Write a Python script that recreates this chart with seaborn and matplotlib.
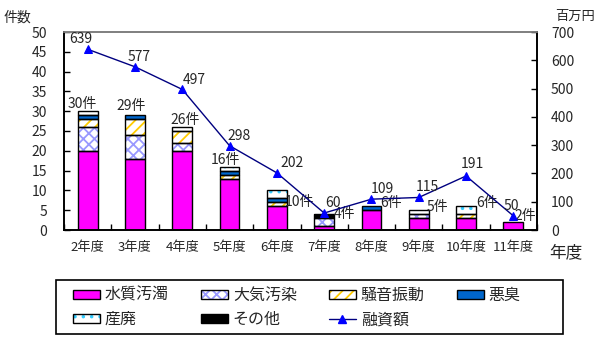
import numpy as np
import pandas as pd
import matplotlib
matplotlib.use("Agg")
import matplotlib.pyplot as plt
import seaborn as sns
from matplotlib.patches import Patch, Rectangle
from matplotlib.lines import Line2D
from matplotlib.legend_handler import HandlerTuple

# ---------------- data ----------------
years = ["2年度", "3年度", "4年度", "5年度", "6年度", "7年度", "8年度", "9年度", "10年度", "11年度"]
water = [20, 18, 20, 13, 6, 1, 5, 3, 3, 2]      # 水質汚濁
air = [6, 6, 2, 0, 0, 2, 0, 1, 0, 0]            # 大気汚染
noise = [2, 4, 3, 1, 1, 0, 0, 0, 1, 0]          # 騒音振動
odor = [1, 1, 0, 1, 1, 0, 1, 0, 0, 0]           # 悪臭
waste = [1, 0, 1, 1, 2, 0, 0, 1, 2, 0]          # 産廃
other = [0, 0, 0, 0, 0, 1, 0, 0, 0, 0]          # その他
funds = [639, 577, 497, 298, 202, 60, 109, 115, 191, 50]  # 融資額(百万円)
series_names = ["水質汚濁", "大気汚染", "騒音振動", "悪臭", "産廃", "その他"]
line_name = "融資額"

# ---------------- style ----------------
sns.set_theme(style="white")
FONT = ["Noto Sans CJK JP", "DejaVu Sans"]
plt.rcParams["font.family"] = FONT
plt.rcParams["hatch.linewidth"] = 1.3
FS = 10
FS_TICK = 9.5
FS_LEG = 11.5

styles = [
    dict(face="#FF00FF", hatch=None, hcol=None),
    dict(face="white", hatch="xxx", hcol="#9999FF"),
    dict(face="white", hatch="///", hcol="#FFCC00"),
    dict(face="#0066CC", hatch=None, hcol=None),
    dict(face="white", hatch="..", hcol="#33CCFF"),
    dict(face="#000000", hatch=None, hcol=None),
]

fig = plt.figure(figsize=(6.10, 3.44), dpi=100)
ax = fig.add_axes([64 / 610, 1 - 230 / 344, (537 - 64) / 610, (230 - 32) / 344])

layers = [water, air, noise, odor, waste, other]
df = pd.DataFrame({"year": years})
bottom = np.zeros(len(years))
BW = 0.42
for name, vals, st in zip(series_names, layers, styles):
    df[name] = vals
    v = np.array(vals, dtype=float)
    if st["hatch"]:
        sns.barplot(data=df, x="year", y=name, bottom=bottom, color=st["face"], width=BW,
                    ax=ax, hatch=st["hatch"], edgecolor=st["hcol"], linewidth=0,
                    saturation=1, errorbar=None)
    else:
        sns.barplot(data=df, x="year", y=name, bottom=bottom, color=st["face"], width=BW,
                    ax=ax, linewidth=0, saturation=1, errorbar=None)
    # outline
    mask = v > 0
    ax.bar(np.arange(len(years))[mask], v[mask], bottom=bottom[mask], width=BW,
           facecolor="none", edgecolor="black", linewidth=1.0, zorder=3)
    bottom = bottom + v

totals = bottom
ax.set_ylim(0, 50)
ax.set_xlim(-0.5, len(years) - 0.5)
ax.set_yticks(np.arange(0, 51, 5))
ax.set_xlabel("")
ax.set_ylabel("")
ax.set_xticks(np.arange(len(years)))
ax.set_xticklabels(years, fontsize=FS_TICK)
ax.set_xticks(np.arange(-0.5, len(years), 1), minor=True)
ax.tick_params(axis="x", which="major", length=0, pad=8)
ax.tick_params(axis="x", which="minor", direction="in", length=4, width=1, color="black", bottom=True)
ax.tick_params(axis="y", direction="in", length=4, width=1, color="black", labelsize=FS, pad=12, left=True)
for s in ["left", "bottom", "right"]:
    ax.spines[s].set_color("black")
    ax.spines[s].set_linewidth(1.2)
ax.spines["top"].set_color("#808080")
ax.spines["top"].set_linewidth(1.2)

# bar total labels (offsets in pixels: dx, dy)
bar_label_off = [(-5, 7), (-4, 9), (3, 7), (-4, 7), (23, -12), (20, 0), (20, 3), (19, 3), (21, 3), (12, 6)]
for i, (t, off) in enumerate(zip(totals, bar_label_off)):
    ax.annotate(f"{int(t)}件", (i, t), xytext=off, textcoords="offset pixels",
                ha="center", va="center", fontsize=FS, zorder=6)

# secondary axis
ax2 = ax.twinx()
sns.lineplot(x=np.arange(len(years)), y=funds, ax=ax2, color="#000080", linewidth=1,
             marker="^", markersize=6, markerfacecolor="#0000FF", markeredgecolor="#0000FF")
ax2.set_ylim(0, 700)
ax2.set_yticks(np.arange(0, 701, 100))
ax2.tick_params(axis="y", direction="in", length=4, width=1, color="black", labelsize=FS, pad=10, right=True)
ax2.set_ylabel("")
ax2.grid(False)
for s in ["left", "bottom", "right"]:
    ax2.spines[s].set_color("black")
    ax2.spines[s].set_linewidth(1.2)
ax2.spines["top"].set_color("#808080")

line_label_off = [(-7, 10), (4, 10), (12, 9), (10, 10), (15, 10), (9, 10), (11, 10), (9, 10), (6, 12), (-2, 10)]
for i, (v, off) in enumerate(zip(funds, line_label_off)):
    ax2.annotate(f"{v}", (i, v), xytext=off, textcoords="offset pixels",
                 ha="center", va="center", fontsize=FS, zorder=6)

# axis titles
fig.text(3 / 610, 1 - 18 / 344, "件数", fontsize=FS, ha="left", va="center")
fig.text(575 / 610, 1 - 16 / 344, "百万円", fontsize=9.5, ha="center", va="center")
fig.text(566 / 610, 1 - 253 / 344, "年度", fontsize=12, ha="center", va="center")

# legend frame
fig.patches.append(Rectangle((56 / 610, 1 - 334 / 344), (563 - 56) / 610, 54 / 344,
                             transform=fig.transFigure, facecolor="none",
                             edgecolor="black", linewidth=1.2))

handles = []
for name, st in zip(series_names, styles):
    if st["hatch"]:
        h = (Patch(facecolor="white", edgecolor=st["hcol"], hatch=st["hatch"], linewidth=0),
             Patch(facecolor="none", edgecolor="black", linewidth=1))
    else:
        h = Patch(facecolor=st["face"], edgecolor="black", linewidth=1)
    handles.append((h, name))
handles.append((Line2D([0], [0], color="#000080", lw=1, marker="^", markersize=6,
                       markerfacecolor="#0000FF", markeredgecolor="#0000FF"), line_name))
order = [0, 4, 1, 5, 2, 6, 3]  # row-major fill for 4 columns
leg = fig.legend([handles[i][0] for i in order], [handles[i][1] for i in order], ncol=4,
                 loc="center left", bbox_to_anchor=(73 / 610, 1 - 307.5 / 344),
                 frameon=False, fontsize=FS_LEG, handlelength=1.7, handleheight=0.45,
                 handletextpad=0.3, borderaxespad=0, labelspacing=0.45, borderpad=0,
                 columnspacing=2.0, handler_map={tuple: HandlerTuple(ndivide=1, pad=0)})

fig.savefig("out.png", dpi=100)
